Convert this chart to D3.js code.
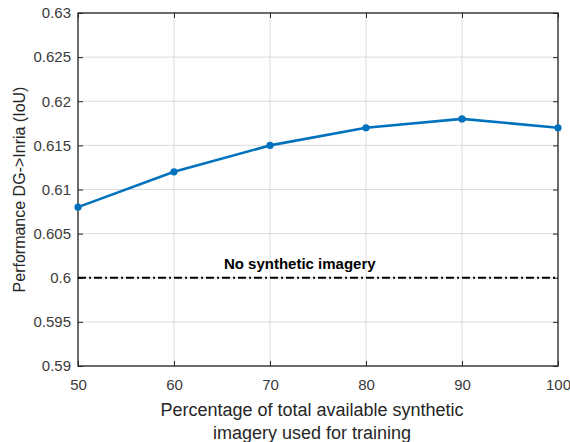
<!DOCTYPE html>
<html>
<head>
<meta charset="utf-8">
<script src="https://cdn.jsdelivr.net/npm/d3@7"></script>
<style>
  body { margin: 0; background: #fff; }
  svg text { font-family: "Liberation Sans", Arial, sans-serif; }
</style>
</head>
<body>
<div id="chart"></div>
<script>
// data
var percents = [50, 60, 70, 80, 90, 100];
var iou = [0.608, 0.612, 0.615, 0.617, 0.618, 0.617];
var baseline = 0.6;
var baselineLabel = 'No synthetic imagery';
var xTicks = [50, 60, 70, 80, 90, 100];
var yTicks = [0.59, 0.595, 0.6, 0.605, 0.61, 0.615, 0.62, 0.625, 0.63];

var W = 570, H = 442;
var m = { left: 78, right: 12, top: 13, bottom: 76 };

var svg = d3.select('#chart').append('svg')
  .attr('width', W).attr('height', H);

var x = d3.scaleLinear().domain([50, 100]).range([m.left, W - m.right]);
var y = d3.scaleLinear().domain([0.59, 0.63]).range([H - m.bottom, m.top]);

// grid
svg.append('g').selectAll('line').data(xTicks).enter().append('line')
  .attr('x1', d => x(d)).attr('x2', d => x(d))
  .attr('y1', y(0.59)).attr('y2', y(0.63))
  .attr('stroke', '#dcdcdc').attr('stroke-width', 1);
svg.append('g').selectAll('line').data(yTicks).enter().append('line')
  .attr('x1', x(50)).attr('x2', x(100))
  .attr('y1', d => y(d)).attr('y2', d => y(d))
  .attr('stroke', '#dcdcdc').attr('stroke-width', 1);

// axes, ticks inside
var tickCol = '#262626';
svg.append('g')
  .attr('transform', 'translate(0,' + y(0.59) + ')')
  .call(d3.axisBottom(x).tickValues(xTicks).tickSizeInner(-5).tickSizeOuter(0).tickPadding(13))
  .call(g => g.select('.domain').remove());
svg.append('g')
  .attr('transform', 'translate(0,' + y(0.63) + ')')
  .call(d3.axisTop(x).tickValues(xTicks).tickSizeInner(-5).tickSizeOuter(0).tickFormat(''))
  .call(g => g.select('.domain').remove());
svg.append('g')
  .attr('transform', 'translate(' + x(50) + ',0)')
  .call(d3.axisLeft(y).tickValues(yTicks).tickSizeInner(-5).tickSizeOuter(0).tickPadding(7)
    .tickFormat(d => String(+d.toFixed(3))))
  .call(g => g.select('.domain').remove());
svg.append('g')
  .attr('transform', 'translate(' + x(100) + ',0)')
  .call(d3.axisRight(y).tickValues(yTicks).tickSizeInner(-5).tickSizeOuter(0).tickFormat(''))
  .call(g => g.select('.domain').remove());

svg.selectAll('.tick line').attr('stroke', tickCol).attr('stroke-width', 1);
svg.selectAll('.tick text').attr('fill', '#3a3a3a').style('font-size', '15px');

svg.append('rect')
  .attr('x', x(50)).attr('y', y(0.63))
  .attr('width', x(100) - x(50)).attr('height', y(0.59) - y(0.63))
  .attr('fill', 'none').attr('stroke', tickCol).attr('stroke-width', 1.3);

// baseline
svg.append('line')
  .attr('x1', x(50)).attr('x2', x(100))
  .attr('y1', y(baseline)).attr('y2', y(baseline))
  .attr('stroke', '#000').attr('stroke-width', 2.2)
  .attr('stroke-dasharray', '8,3,2,3');
svg.append('text')
  .attr('x', x(73.1)).attr('y', y(baseline) - 9)
  .attr('text-anchor', 'middle')
  .style('font-size', '15px').style('font-weight', 'bold')
  .attr('fill', '#000')
  .text(baselineLabel);

// series
var pts = percents.map((p, i) => [p, iou[i]]);
svg.append('path')
  .datum(pts)
  .attr('d', d3.line().x(d => x(d[0])).y(d => y(d[1])))
  .attr('fill', 'none').attr('stroke', '#0072BD').attr('stroke-width', 2.6);
svg.append('g').selectAll('circle').data(pts).enter().append('circle')
  .attr('cx', d => x(d[0])).attr('cy', d => y(d[1]))
  .attr('r', 3.6).attr('fill', '#0072BD');

// labels
svg.append('text')
  .attr('transform', 'translate(25,' + ((y(0.59) + y(0.63)) / 2) + ') rotate(-90)')
  .attr('text-anchor', 'middle')
  .style('font-size', '16px').attr('fill', '#262626')
  .text('Performance DG->Inria (IoU)');
var xl = svg.append('text')
  .attr('text-anchor', 'middle')
  .style('font-size', '18px').attr('fill', '#262626');
xl.append('tspan').attr('x', 312).attr('y', 416)
  .text('Percentage of total available synthetic');
xl.append('tspan').attr('x', 312).attr('y', 439)
  .text('imagery used for training');
</script>
</body>
</html>
